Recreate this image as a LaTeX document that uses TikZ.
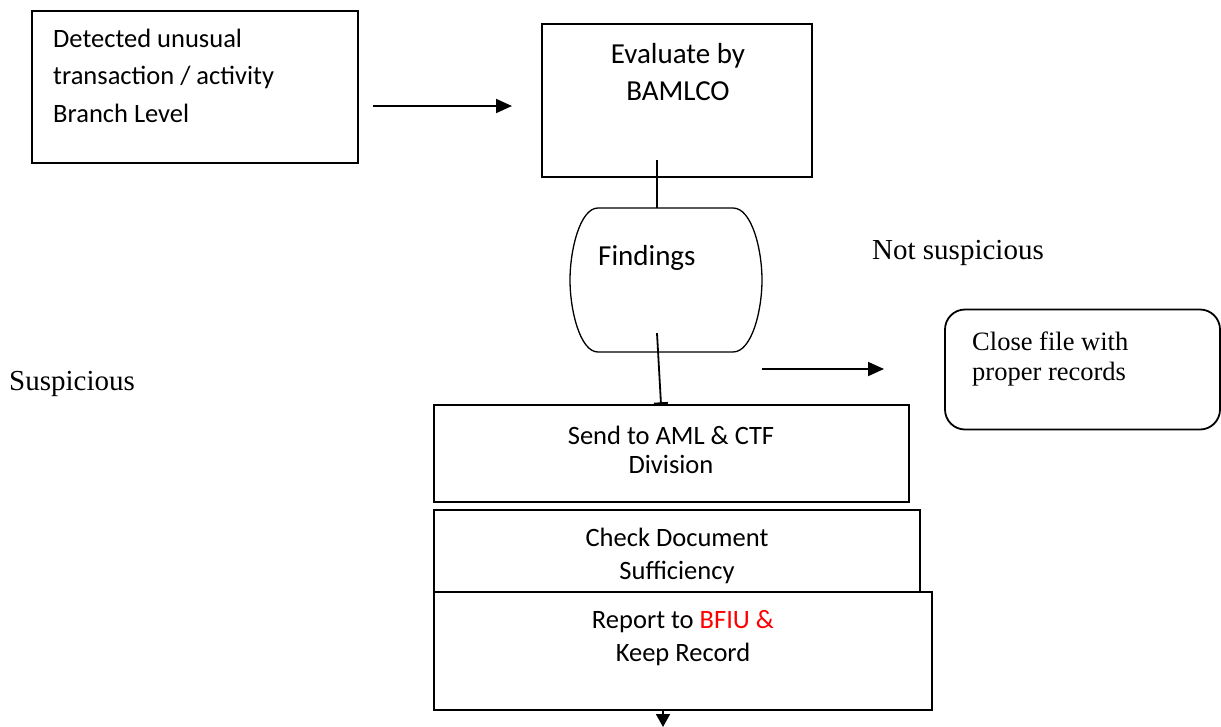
\documentclass[tikz,border=0pt]{standalone}
\usepackage{fontspec}
\setmainfont{Carlito}
\newfontfamily\serifface{Liberation Serif}
\usetikzlibrary{arrows.meta}
\definecolor{alertred}{RGB}{255,0,0}

\tikzset{
  stepbox/.style={draw, line width=1.8pt, fill=white, inner sep=0pt},
  roundbox/.style={stepbox, rounded corners=20pt},
  line/.style={line width=1.8pt},
  arr/.style={line, -{Triangle[length=16pt,width=14pt]}},
  cal/.style={inner sep=0pt, anchor=base, font=\fontsize{26.5}{32}\selectfont},
  calbig/.style={inner sep=0pt, anchor=base, font=\fontsize{29}{35}\selectfont},
  tnr/.style={inner sep=0pt, anchor=base west, font=\serifface\fontsize{29}{35}\selectfont},
  tnrsmall/.style={inner sep=0pt, anchor=base west, font=\serifface\fontsize{26.5}{32}\selectfont},
}

\begin{document}
\begin{tikzpicture}[x=1pt, y=-1pt]
\useasboundingbox (0,0) rectangle (1221,726);
\fill[white] (0,0) rectangle (1221,726);

% --- boxes ---
\node[stepbox, minimum width=326pt, minimum height=152pt] (detect) at (195,87) {};
\node[stepbox, minimum width=270pt, minimum height=153pt] (eval) at (677,100.5) {};
\node[inner sep=0pt, minimum width=192pt, minimum height=144pt] (find) at (666,280) {};
\node[roundbox, minimum width=275pt, minimum height=120pt] (close) at (1082.5,369.5) {};
\node[stepbox, minimum width=475pt, minimum height=97pt] (send) at (671.5,453.5) {};
\node[stepbox, minimum width=486pt, minimum height=82pt] (check) at (677,551) {};
\node[stepbox, minimum width=498pt, minimum height=118pt] (report) at (683,651) {};

% Findings outline: flat top and bottom, bulging sides
\draw[line width=1.3pt]
  (598,208) -- (733,208)
  .. controls (752,208) and (762,250) .. (762,280)
  .. controls (762,310) and (752,352) .. (733,352)
  -- (598,352)
  .. controls (580,352) and (570,310) .. (570,280)
  .. controls (570,250) and (580,208) .. (598,208);

% --- texts ---
\node[cal, anchor=base west] (d1) at (53,47) {Detected unusual};
\node[cal, anchor=base west] (d2) at (53,84) {transaction / activity};
\node[cal, anchor=base west] (d3) at (53,122) {Branch Level};

\node[calbig] (e1) at (678,63) {Evaluate by};
\node[calbig] (e2) at (678,100) {BAMLCO};

\node[calbig, anchor=base west] (f1) at (598,265) {Findings};

\node[tnr] (ns) at (872,259) {Not suspicious};
\node[tnr] (su) at (9,390) {Suspicious};

\node[tnrsmall] (c1) at (972,350) {Close file with};
\node[tnrsmall] (c2) at (972,380) {proper records};

\node[cal] (s1) at (671,444) {Send to AML \& CTF};
\node[cal] (s2) at (671,473) {Division};

\node[cal] (k1) at (677,546) {Check Document};
\node[cal] (k2) at (677,579) {Sufficiency};

\node[cal] (r1) at (683,628) {Report to \textcolor{alertred}{BFIU \&}};
\node[cal] (r2) at (683,661) {Keep Record};

% --- connectors ---
\coordinate (a1s) at (373,106);
\coordinate (a1e) at (512,106);
\draw[arr] (a1s) -- (a1e);

\draw[line] ([shift={(-20,-18)}]eval.south) -- ([xshift=-9pt]find.north);
\draw[line, -{Bar[width=14pt,line width=1.8pt]}]
  ([shift={(-9,-19)}]find.south) -- ([xshift=-10.5pt]send.north);

\coordinate (a2s) at (762,369);
\coordinate (a2e) at (884,369);
\draw[arr] (a2s) -- (a2e);

\coordinate (outlet) at (663,727);
\draw[line, -{Triangle[length=13pt,width=14pt]}] ([xshift=-20pt]report.south) -- (outlet);
\end{tikzpicture}
\end{document}
